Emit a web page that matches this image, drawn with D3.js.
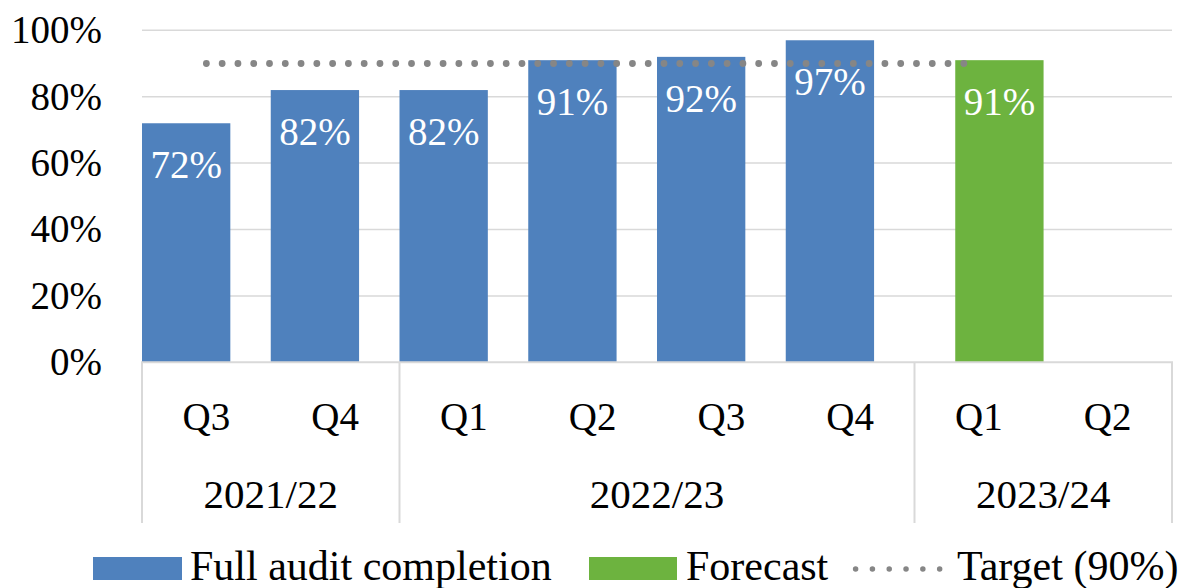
<!DOCTYPE html>
<html>
<head>
<meta charset="utf-8">
<script src="https://cdn.jsdelivr.net/npm/d3@7"></script>
<style>
  body { margin: 0; background: #fff; }
  svg text { font-family: "Liberation Serif", "Times New Roman", serif !important; }
</style>
</head>
<body>
<div id="chart"></div>
<script>
// chart data
const quarters = ["Q3", "Q4", "Q1", "Q2", "Q3", "Q4", "Q1", "Q2"];
const yearLabels = ["2021/22", "2022/23", "2023/24"];
const yearSpans = [2, 4, 2];
const auditCompletion = [72, 82, 82, 91, 92, 97, null, null];
const forecast = [null, null, null, null, null, null, 91, null];
const target = [90, 90, 90, 90, 90, 90, 90, null];
const yTicks = [0, 20, 40, 60, 80, 100];

const width = 1187, height = 588;
const blue = "#4F81BD", green = "#6DB33F", grey = "#868686", gridColor = "#d9d9d9";
const serif = '"Liberation Serif", "Times New Roman", serif';

const svg = d3.select("#chart")
  .append("svg")
  .attr("width", width)
  .attr("height", height)
  .style("font-family", serif);

const x = d3.scaleBand()
  .domain(d3.range(quarters.length))
  .range([142, 1172])
  .padding(0);

const y = d3.scaleLinear()
  .domain([0, 100])
  .range([362.3, 30.3]);

const bw = x.bandwidth();
const barW = bw * 0.686;

// gridlines
svg.append("g")
  .selectAll("line")
  .data(yTicks.filter(d => d > 0))
  .enter()
  .append("line")
  .attr("x1", 142)
  .attr("x2", 1172)
  .attr("y1", d => y(d))
  .attr("y2", d => y(d))
  .attr("stroke", gridColor)
  .attr("stroke-width", 1.5);

// y axis labels
const yAxis = svg.append("g")
  .attr("transform", "translate(102,0)")
  .call(d3.axisLeft(y).tickValues(yTicks).tickFormat(d => d + "%").tickSize(0).tickPadding(0));
yAxis.attr("font-family", null).attr("font-size", null);
yAxis.select(".domain").remove();
yAxis.selectAll("text")
  .style("font-family", serif)
  .style("font-size", "39px")
  .attr("fill", "#000");

// bars - full audit completion
svg.append("g")
  .selectAll("rect")
  .data(auditCompletion.map((v, i) => ({ v, i })).filter(d => d.v != null))
  .enter()
  .append("rect")
  .attr("x", d => x(d.i))
  .attr("y", d => y(d.v))
  .attr("width", barW)
  .attr("height", d => y(0) - y(d.v))
  .attr("fill", blue);

// bars - forecast
svg.append("g")
  .selectAll("rect")
  .data(forecast.map((v, i) => ({ v, i })).filter(d => d.v != null))
  .enter()
  .append("rect")
  .attr("x", d => x(d.i) + bw * 0.3165)
  .attr("y", d => y(d.v))
  .attr("width", barW)
  .attr("height", d => y(0) - y(d.v))
  .attr("fill", green);

// target line
const line = d3.line()
  .defined(d => d.v != null)
  .x(d => x(d.i) + bw / 2)
  .y(d => y(d.v));

svg.append("path")
  .datum(target.map((v, i) => ({ v, i })))
  .attr("d", line)
  .attr("fill", "none")
  .attr("stroke", grey)
  .attr("stroke-width", 6.8)
  .attr("stroke-linecap", "round")
  .attr("stroke-dasharray", "0.01 15.77");

// data labels
const labels = svg.append("g")
  .style("font-size", "39px")
  .attr("fill", "#fff")
  .attr("text-anchor", "middle");

auditCompletion.forEach((v, i) => {
  if (v == null) return;
  labels.append("text")
    .attr("x", x(i) + barW / 2)
    .attr("y", y(v) + 55)
    .style("font-family", serif)
    .text(v + "%");
});
forecast.forEach((v, i) => {
  if (v == null) return;
  labels.append("text")
    .attr("x", x(i) + bw * 0.3165 + barW / 2)
    .attr("y", y(v) + 55)
    .style("font-family", serif)
    .text(v + "%");
});

// x axis line
svg.append("line")
  .attr("x1", 141)
  .attr("x2", 1173)
  .attr("y1", y(0))
  .attr("y2", y(0))
  .attr("stroke", gridColor)
  .attr("stroke-width", 2);

// group separators
let bounds = [0];
yearSpans.forEach(s => bounds.push(bounds[bounds.length - 1] + s));
const sepX = i => (i < quarters.length ? x(i) : x.range()[1]);

svg.append("g")
  .selectAll("line")
  .data(bounds)
  .enter()
  .append("line")
  .attr("x1", d => sepX(d))
  .attr("x2", d => sepX(d))
  .attr("y1", y(0))
  .attr("y2", 523)
  .attr("stroke", gridColor)
  .attr("stroke-width", 2);

// quarter labels
svg.append("g")
  .selectAll("text")
  .data(quarters)
  .enter()
  .append("text")
  .attr("x", (d, i) => x(i) + bw / 2)
  .attr("y", 430)
  .attr("text-anchor", "middle")
  .style("font-size", "39px")
  .text(d => d);

// year labels
svg.append("g")
  .selectAll("text")
  .data(yearLabels)
  .enter()
  .append("text")
  .attr("x", (d, i) => (sepX(bounds[i]) + sepX(bounds[i + 1])) / 2)
  .attr("y", 508)
  .attr("text-anchor", "middle")
  .style("font-size", "41px")
  .text(d => d);

// legend
const legend = svg.append("g").style("font-size", "42px");

legend.append("rect").attr("x", 93).attr("y", 557).attr("width", 89).attr("height", 23).attr("fill", blue);
legend.append("text").attr("x", 190).attr("y", 579.5).text("Full audit completion");

legend.append("rect").attr("x", 589).attr("y", 557).attr("width", 88).attr("height", 23).attr("fill", green);
legend.append("text").attr("x", 686).attr("y", 579.5).text("Forecast");

legend.append("line")
  .attr("x1", 855.6)
  .attr("x2", 940)
  .attr("y1", 569)
  .attr("y2", 569)
  .attr("stroke", grey)
  .attr("stroke-width", 5.5)
  .attr("stroke-linecap", "round")
  .attr("stroke-dasharray", "0.01 16.8");
legend.append("text").attr("x", 957).attr("y", 579.5).text("Target (90%)");
</script>
</body>
</html>
